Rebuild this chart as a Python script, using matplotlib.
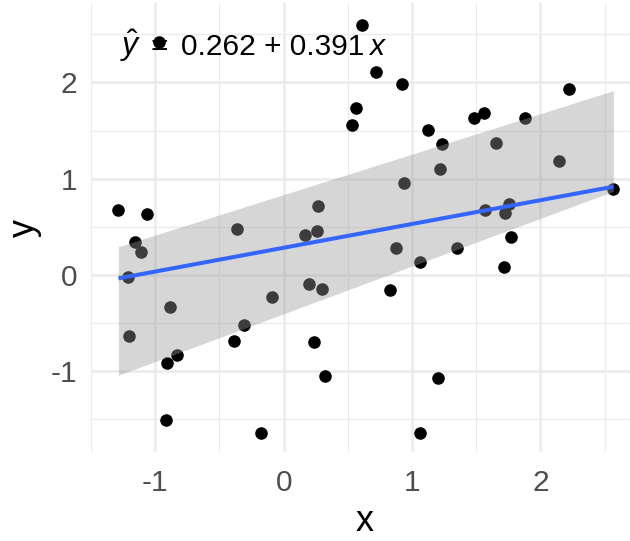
import numpy as np
import matplotlib
matplotlib.use("Agg")
import matplotlib.pyplot as plt

plt.rcParams['font.family'] = ['Liberation Sans', 'DejaVu Sans']
plt.rcParams['mathtext.fontset'] = 'custom'
plt.rcParams['mathtext.rm'] = 'Liberation Sans'
plt.rcParams['mathtext.it'] = 'Liberation Sans:italic'
plt.rcParams['axes.unicode_minus'] = False

x = [-0.969, 0.610, 0.716, 0.920, 0.561, 0.530, -1.287, -1.062, 0.935, 0.269,
     1.127, 1.233, 1.483, 1.561, 1.876, 2.225, 1.656, 1.220, 2.142, 2.568,
     1.566, 1.755, 1.721, -0.364, -1.160, -1.114, -1.209, 0.165, 0.261, 0.876,
     0.829, 0.199, 0.295, -0.091, -0.889, -1.202, -0.310, -0.385, 0.238, -0.829,
     -0.907, 0.320, -0.920, -0.173, 1.347, 1.065, 1.773, 1.716, 1.204, 1.062]
y = [2.420, 2.596, 2.111, 1.983, 1.737, 1.554, 0.675, 0.633, 0.950, 0.720,
     1.506, 1.360, 1.627, 1.679, 1.627, 1.928, 1.367, 1.101, 1.187, 0.893,
     0.675, 0.737, 0.640, 0.478, 0.346, 0.236, -0.024, 0.415, 0.460, 0.277,
     -0.156, -0.093, -0.145, -0.225, -0.336, -0.633, -0.519, -0.682, -0.692, -0.831,
     -0.917, -1.045, -1.506, -1.644, 0.277, 0.132, 0.398, 0.086, -1.066, -1.644]

# fitted line and ribbon as drawn in the reference
fit_x = [-1.287, 2.568]
fit_y = [-0.035, 0.917]
band_lower = [-1.04, 0.869]
band_upper = [0.294, 1.914]

x_ticks = [-1, 0, 1, 2]
y_ticks = [-1, 0, 1, 2]
eq_intercept = "0.262"
eq_slope = "0.391"

W, H = 630, 541
fig = plt.figure(figsize=(W / 100, H / 100), dpi=100)
L, R, T, B = 91.1, 638.0, 3.4, 452.2
ax = fig.add_axes([L / W, 1 - B / H, (R - L) / W, (B - T) / H])
ax.set_xlim(-1.48, 2.76)
ax.set_ylim(-1.84, 2.82)

for sp in ax.spines.values():
    sp.set_visible(False)
ax.set_xticks(x_ticks)
ax.set_yticks(y_ticks)
ax.set_xticklabels([str(t) for t in x_ticks])
ax.set_yticklabels([str(t) for t in y_ticks])
ax.set_xticks([-1.5, -0.5, 0.5, 1.5, 2.5], minor=True)
ax.set_yticks([-1.5, -0.5, 0.5, 1.5, 2.5], minor=True)
ax.grid(True, which='major', color='#EBEBEB', linewidth=1.8, zorder=0)
ax.grid(True, which='minor', color='#EBEBEB', linewidth=0.9, zorder=0)
ax.set_axisbelow(True)
ax.tick_params(which='both', length=0)
ax.tick_params(axis='x', pad=12, labelsize=21.5, labelcolor='#4D4D4D')
ax.tick_params(axis='y', pad=10, labelsize=21.5, labelcolor='#4D4D4D')

ax.scatter(x, y, s=82, color='black', linewidths=0, zorder=2)
ax.fill_between(fit_x, band_lower, band_upper, color='#999999', alpha=0.4,
                linewidth=0, zorder=3)
ax.plot(fit_x, fit_y, color='#3366FF', linewidth=2.9, zorder=4, solid_capstyle='butt')

ax.set_xlabel('x', fontsize=26, labelpad=5)
ax.set_ylabel('y', fontsize=26, labelpad=6)

ty = 2.28
ax.text(-1.275, ty, r'$\hat{y}$', fontsize=23, va='baseline', ha='left', zorder=5)
ax.text(-0.97, ty, '=', fontsize=21.5, va='baseline', ha='center', zorder=5)
ax.text(-0.80, ty, eq_intercept + ' + ' + eq_slope, fontsize=21.5, va='baseline',
        ha='left', zorder=5)
ax.text(0.66, ty, r'$x$', fontsize=21.5, va='baseline', ha='left', zorder=5)

fig.savefig('out.png', dpi=100)
